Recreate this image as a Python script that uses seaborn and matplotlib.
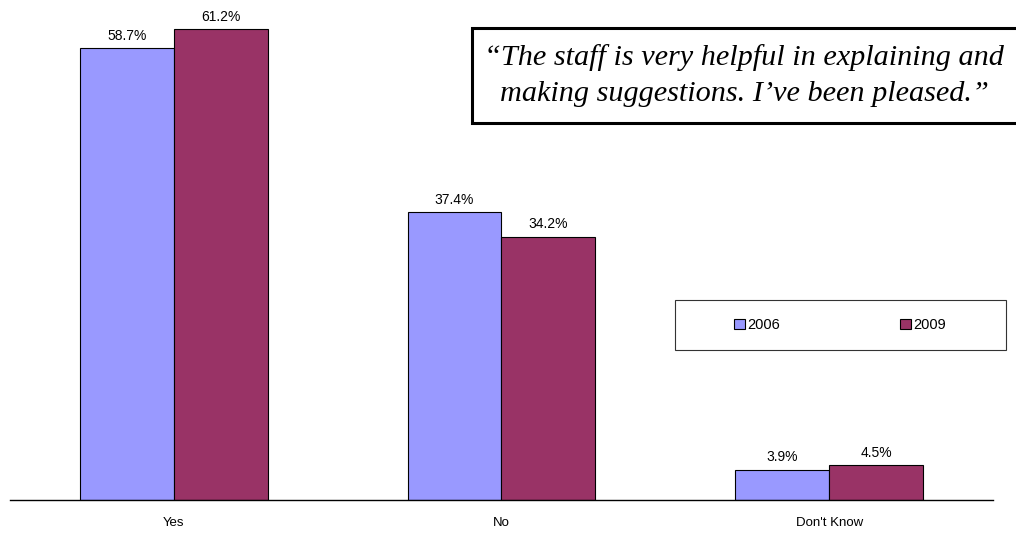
import numpy as np
import pandas as pd
import matplotlib
matplotlib.use("Agg")
import matplotlib.pyplot as plt
import seaborn as sns
from matplotlib.patches import Rectangle

# data
categories = ["Yes", "No", "Don't Know"]
years = ["2006", "2009"]
pct_2006 = [58.7, 37.4, 3.9]
pct_2009 = [61.2, 34.2, 4.5]
colors = ["#9999FF", "#993366"]
quote = "\u201cThe staff is very helpful in explaining and\nmaking suggestions. I\u2019ve been pleased.\u201d"

df = pd.DataFrame({
    "answer": categories * 2,
    "year": [years[0]] * 3 + [years[1]] * 3,
    "pct": pct_2006 + pct_2009,
})

sns.set_style("white")
plt.rcParams["font.family"] = ["Liberation Sans", "DejaVu Sans"]
plt.rcParams["text.color"] = "black"
plt.rcParams["xtick.color"] = "black"

W, H = 1016, 537
fig = plt.figure(figsize=(W / 100, H / 100), dpi=100)
ax = fig.add_axes([10 / W, 37 / H, 983 / W, 500 / H])

sns.barplot(data=df, x="answer", y="pct", hue="year", order=categories,
            hue_order=years, palette=colors, width=0.573, saturation=1,
            edgecolor="black", linewidth=0.8, ax=ax)

for cont in ax.containers:
    ax.bar_label(cont, fmt="%.1f%%", padding=4, fontsize=10, color="black")

ax.set_xlim(-0.5, 2.5)
ax.set_ylim(0, 65)
ax.set_xlabel("")
ax.set_ylabel("")
ax.set_yticks([])
ax.tick_params(axis="x", length=0, pad=12, labelsize=9.5)
for s in ["top", "left", "right"]:
    ax.spines[s].set_visible(False)
ax.spines["bottom"].set_color("black")
ax.spines["bottom"].set_linewidth(1)

# legend box: frame drawn separately, entries centred inside it
handles, labels = ax.get_legend_handles_labels()
ax.get_legend().remove()
fig.patches.append(Rectangle((675 / W, 1 - 350 / H), 331 / W, 50 / H,
                             transform=fig.transFigure, facecolor="white",
                             edgecolor="#333333", linewidth=0.8, zorder=3))
leg = fig.legend(handles, labels, ncol=2, loc="center",
                 bbox_to_anchor=(840 / W, 1 - 325 / H),
                 fontsize=10.5, handlelength=0.75, handleheight=0.75,
                 handletextpad=0.2, columnspacing=8.2, frameon=False,
                 borderaxespad=0)
leg.set_zorder(4)

# quote box
fig.patches.append(Rectangle((472 / W, 1 - 123 / H), 560 / W, 95 / H,
                             transform=fig.transFigure, facecolor="white",
                             edgecolor="black", linewidth=2.2, zorder=5))
fig.text(744 / W, 1 - 76 / H, quote, ha="center", va="center",
         family=["Liberation Serif", "DejaVu Serif"], style="italic",
         fontsize=21.8, linespacing=1.5, zorder=6)

fig.savefig("out.png", dpi=100)
